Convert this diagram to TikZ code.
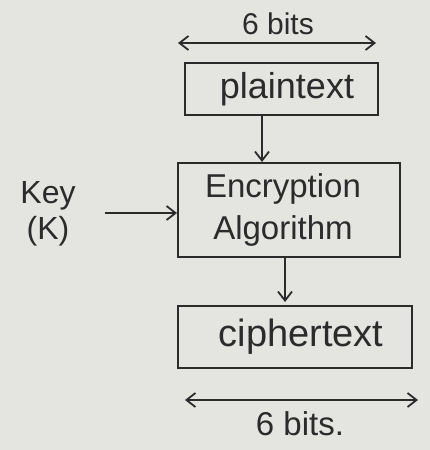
\documentclass[tikz,border=0pt]{standalone}
\usepackage{fontspec}
\setmainfont{Liberation Sans}
\usetikzlibrary{arrows.meta}
\definecolor{paper}{HTML}{E4E4E1}
\definecolor{ink}{HTML}{2B2B2B}
\begin{document}
\begin{tikzpicture}[x=1pt,y=-1pt,
  box/.style={draw=ink,line width=2pt,minimum height=0pt,inner sep=0pt},
  lbl/.style={text=ink,font=\fontsize{34}{38}\selectfont,align=center},
  conn/.style={draw=ink,line width=1.8pt,-{Straight Barb[length=9pt,width=14pt]}},
  dim/.style={draw=ink,line width=1.8pt,{Straight Barb[length=9pt,width=14pt]}-{Straight Barb[length=9pt,width=14pt]}}]
\fill[paper] (0,0) rectangle (430,450);
\useasboundingbox (0,0) rectangle (430,450);
% boxes
\node[box,minimum width=193pt,minimum height=52pt] (plain) at (281,89) {};
\node[lbl,font=\fontsize{36}{40}\selectfont] at ([xshift=6pt]plain.center) {plaintext};
\node[box,minimum width=222pt,minimum height=94pt] (enc) at (289,210) {};
\node[lbl,font=\fontsize{33}{42}\selectfont] at ([xshift=-6pt]enc.center) {Encryption\\Algorithm};
\node[box,minimum width=234pt,minimum height=62pt] (ciph) at (295,337) {};
\node[lbl,font=\fontsize{38}{42}\selectfont] at ([xshift=6pt]ciph.center) {ciphertext};
% key
\node[lbl,font=\fontsize{32}{36}\selectfont] (key) at (48,214) {Key\\(K)};
\coordinate (keyend) at (105,213);
\draw[conn] (keyend) -- (enc.west |- keyend);
% vertical arrows
\coordinate (p1) at (262,115);
\draw[conn] (p1) -- (262,162);
\coordinate (p2) at (285,257);
\draw[conn] (p2) -- (285,302);
% dimension arrows
\coordinate (t1) at (178,43);
\coordinate (t2) at (376,43);
\draw[dim] (t1) -- (t2);
\node[lbl,font=\fontsize{30}{34}\selectfont] (tb) at (278,24) {6 bits};
\coordinate (b1) at (185,400);
\coordinate (b2) at (418,400);
\draw[dim] (b1) -- (b2);
\node[lbl,font=\fontsize{33}{36}\selectfont] (bb) at (300,424) {6 bits.};
\end{tikzpicture}
\end{document}
